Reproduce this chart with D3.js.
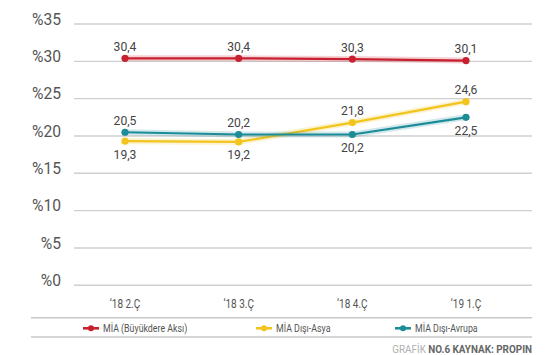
<!DOCTYPE html>
<html>
<head>
<meta charset="utf-8">
<script src="https://cdn.jsdelivr.net/npm/d3@7"></script>
<style>
  html, body { margin: 0; padding: 0; background: #fff; }
  svg { display: block; }
  text { font-family: 'Roboto', 'Liberation Sans', sans-serif; }
</style>
</head>
<body>
<svg id="chart" width="555" height="355"></svg>
<script>
// ---- data ----
const categories = ["\u201818 2.Ç", "\u201818 3.Ç", "\u201818 4.Ç", "\u201819 1.Ç"];
const seriesNames = ["MİA (Büyükdere Aksı)", "MİA Dışı-Asya", "MİA Dışı-Avrupa"];
const buyukdere = [30.4, 30.4, 30.3, 30.1];
const disiAsya = [19.3, 19.2, 21.8, 24.6];
const disiAvrupa = [20.5, 20.2, 20.2, 22.5];
const yTicks = [0, 5, 10, 15, 20, 25, 30, 35];
const source = ["GRAFİK", "NO.6 KAYNAK: PROPIN"];

// ---- style / layout ----
const colors = ["#c8202f", "#f2c41e", "#1c8c98"];
// label placement per series per point: -1 above, +1 below
const placement = [
  [-1, -1, -1, -1],
  [1, 1, -1, -1],
  [-1, -1, 1, 1]
];
const series = [buyukdere, disiAsya, disiAvrupa];

const svg = d3.select("#chart");
const x = d3.scalePoint().domain(categories).range([125, 466]);
const y = d3.scaleLinear().domain([0, 35]).range([285.3, 24]);
const gridX1 = 74, gridX2 = 532;

// condensed text helper: position via transform with horizontal squeeze
const place = (fx, fy, sx) => (d, i) => `translate(${fx(d, i)},${fy(d, i)}) scale(${sx},1)`;

// gridlines
svg.append("g").selectAll("line").data(yTicks).join("line")
  .attr("x1", gridX1).attr("x2", gridX2)
  .attr("y1", d => y(d)).attr("y2", d => y(d))
  .attr("stroke", "#cfcfcf").attr("stroke-width", 1.4);

// y tick labels
svg.append("g").selectAll("text").data(yTicks).join("text")
  .attr("transform", place(() => 61, d => y(d) - 5, 0.92))
  .attr("text-anchor", "end").attr("dominant-baseline", "central")
  .attr("font-size", 17).attr("fill", "#555")
  .text(d => "%" + d);

// x tick labels
svg.append("g").selectAll("text").data(categories).join("text")
  .attr("transform", place(d => x(d), () => 307.5, 0.8))
  .attr("text-anchor", "middle")
  .attr("font-size", 12.5).attr("fill", "#555")
  .text(d => d);

const line = d3.line().x((d, i) => x(categories[i])).y(d => y(d));

series.forEach((vals, s) => {
  const g = svg.append("g");
  g.append("path").datum(vals).attr("d", line)
    .attr("fill", "none").attr("stroke", colors[s])
    .attr("stroke-opacity", 0.2).attr("stroke-width", 6)
    .attr("stroke-linejoin", "round");
  g.append("path").datum(vals).attr("d", line)
    .attr("fill", "none").attr("stroke", colors[s])
    .attr("stroke-width", 2.2).attr("stroke-linejoin", "round");
  g.selectAll("circle").data(vals).join("circle")
    .attr("cx", (d, i) => x(categories[i])).attr("cy", d => y(d))
    .attr("r", 3.6).attr("fill", colors[s]);
  g.selectAll("text").data(vals).join("text")
    .attr("transform", place((d, i) => x(categories[i]),
      (d, i) => placement[s][i] < 0 ? y(d) - 7.5 : y(d) + 17.5, 0.9))
    .attr("text-anchor", "middle")
    .attr("font-size", 13.5).attr("fill", "#444")
    .text(d => d3.format(".1f")(d).replace(".", ","));
});

// legend frame lines
[317.7, 337].forEach(yy => {
  svg.append("line").attr("x1", 31).attr("x2", 532)
    .attr("y1", yy).attr("y2", yy)
    .attr("stroke", "#c8c8c8").attr("stroke-width", 1.4);
});

// legend
const legendX = [91, 264, 403];
const leg = svg.append("g").selectAll("g").data(seriesNames).join("g")
  .attr("transform", (d, i) => `translate(${legendX[i]},328.3)`);
leg.append("line").attr("x1", -8).attr("x2", 8)
  .attr("stroke", (d, i) => colors[i]).attr("stroke-width", 2.6);
leg.append("circle").attr("r", 3).attr("fill", (d, i) => colors[i]);
leg.append("text")
  .attr("transform", "translate(12,0) scale(0.84,1)")
  .attr("dominant-baseline", "central")
  .attr("font-size", 10.5).attr("fill", "#555")
  .text(d => d);

// source
const src = svg.append("text")
  .attr("transform", "translate(532,348.3) scale(0.9,1)")
  .attr("text-anchor", "end")
  .attr("dominant-baseline", "central").attr("font-size", 11);
src.append("tspan").attr("fill", "#b0b0b0").text(source[0] + " ");
src.append("tspan").attr("fill", "#666").attr("font-weight", "bold").text(source[1]);
</script>
</body>
</html>
